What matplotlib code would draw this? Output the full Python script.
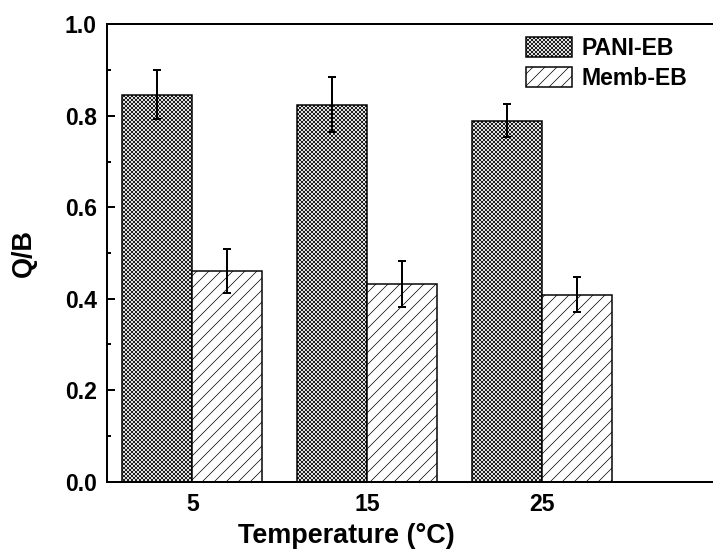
import matplotlib
matplotlib.use('Agg')
import matplotlib.pyplot as plt
import numpy as np
from matplotlib.ticker import MultipleLocator

# Data
temps = ['5', '15', '25']
pani = [0.846, 0.824, 0.789]
pani_err = [0.054, 0.060, 0.036]
memb = [0.460, 0.432, 0.409]
memb_err = [0.048, 0.051, 0.038]

plt.rcParams['font.family'] = 'Liberation Sans'
plt.rcParams['font.weight'] = 'bold'
plt.rcParams['hatch.linewidth'] = 0.7
plt.rcParams['hatch.color'] = 'black'

# dpi 72 so that point sizes are pixels
fig = plt.figure(figsize=(713/72, 558/72), dpi=72)
ax = fig.add_axes([106.7/713, 1-481.7/558, 1-106.7/713, (481.7-24.3)/558])

x = np.arange(len(temps))
w = 0.4
ax.bar(x-w/2, pani, w, color='white', edgecolor='black', linewidth=1.5, hatch='xxxxxx', label='PANI-EB')
ax.bar(x+w/2, memb, w, color='white', edgecolor='black', linewidth=1.5, hatch='//', label='Memb-EB')
ax.errorbar(x-w/2, pani, yerr=pani_err, fmt='none', ecolor='black', elinewidth=2, capsize=4, capthick=2)
ax.errorbar(x+w/2, memb, yerr=memb_err, fmt='none', ecolor='black', elinewidth=2, capsize=4, capthick=2)

ax.set_xlim(-0.49, 2.98)
ax.set_ylim(0, 1.0)
ax.set_xticks(x)
ax.set_xticklabels(temps)
ax.yaxis.set_major_locator(MultipleLocator(0.2))
ax.yaxis.set_minor_locator(MultipleLocator(0.1))
ax.yaxis.set_major_formatter(plt.FormatStrFormatter('%.1f'))
ax.tick_params(axis='y', which='major', direction='in', length=8, width=2, labelsize=23, pad=10)
ax.tick_params(axis='y', which='minor', direction='in', length=4, width=2)
ax.tick_params(axis='x', length=0, labelsize=23, pad=11)

ax.spines['right'].set_visible(False)
for s in ['left', 'bottom', 'top']:
    ax.spines[s].set_linewidth(2)

ax.set_xlabel('Temperature (°C)', fontsize=27, fontweight='bold')
ax.xaxis.set_label_coords((346-106.7)/(713-106.7), -0.09)
ax.set_ylabel('Q/B', fontsize=27, fontweight='bold')
ax.yaxis.set_label_coords(-0.115, 0.5)

ax.legend(loc='upper left', bbox_to_anchor=(525.7/713, 1-37/558), bbox_transform=fig.transFigure,
          frameon=False, prop={'size': 23, 'weight': 'bold'}, borderpad=0, borderaxespad=0,
          handlelength=2.03, handleheight=0.99, handletextpad=0.4, labelspacing=0.28)

plt.savefig('out.png', dpi=72)
